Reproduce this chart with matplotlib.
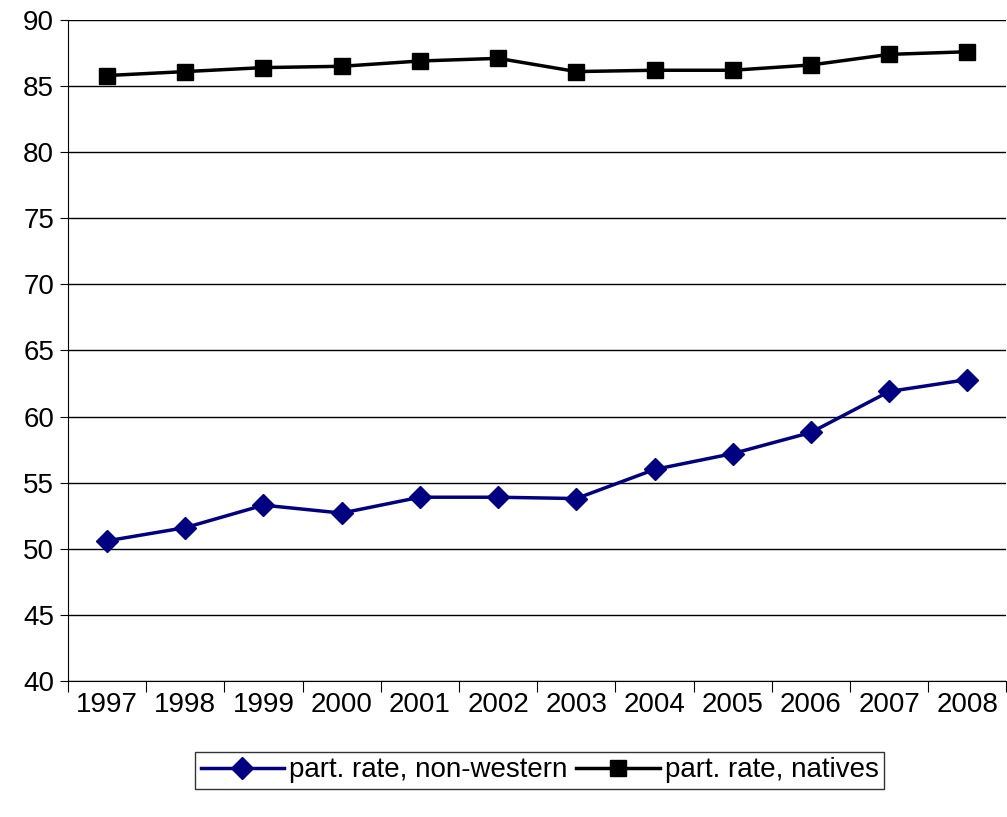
import matplotlib
matplotlib.use("Agg")
import matplotlib.pyplot as plt

years = ["1997", "1998", "1999", "2000", "2001", "2002", "2003", "2004", "2005", "2006", "2007", "2008"]
non_western = [50.6, 51.6, 53.3, 52.7, 53.9, 53.9, 53.8, 56.0, 57.2, 58.8, 61.9, 62.8]
natives = [85.8, 86.1, 86.4, 86.5, 86.9, 87.1, 86.1, 86.2, 86.2, 86.6, 87.4, 87.6]

plt.rcParams['font.family'] = ['Liberation Sans', 'DejaVu Sans']

fig = plt.figure(figsize=(10.07, 8.17), dpi=100)
ax = fig.add_axes([0.0675, 0.1665, 0.932, 0.809])

x = list(range(len(years)))
ax.plot(x, non_western, color='#000080', marker='D', markersize=11, linewidth=2.5,
        label="part. rate, non-western")
ax.plot(x, natives, color='black', marker='s', markersize=12, linewidth=2.5,
        label="part. rate, natives")

ax.set_xlim(-0.5, len(years) - 0.5)
ax.set_ylim(40, 90)
ax.set_yticks(range(40, 91, 5))
ax.yaxis.grid(True, color='black', linewidth=1)
ax.set_axisbelow(True)

ax.set_xticks([i - 0.5 for i in range(len(years) + 1)])
ax.set_xticklabels([])
ax.set_xticks(x, minor=True)
ax.set_xticklabels(years, minor=True)
ax.tick_params(axis='x', which='major', length=8, direction='out', color='black')
ax.tick_params(axis='x', which='minor', length=0, pad=8, labelsize=20)
ax.tick_params(axis='y', length=6, labelsize=20, pad=4)

ax.spines['top'].set_visible(False)
ax.spines['right'].set_visible(False)

leg = fig.legend(loc='center', bbox_to_anchor=(0.536, 0.057), ncol=2, fontsize=20,
                 frameon=True, fancybox=False, edgecolor='black', handlelength=3.0,
                 columnspacing=0.3, handletextpad=0.2, borderpad=0.2)
leg.get_frame().set_linewidth(1)

fig.savefig("out.png", dpi=100)
